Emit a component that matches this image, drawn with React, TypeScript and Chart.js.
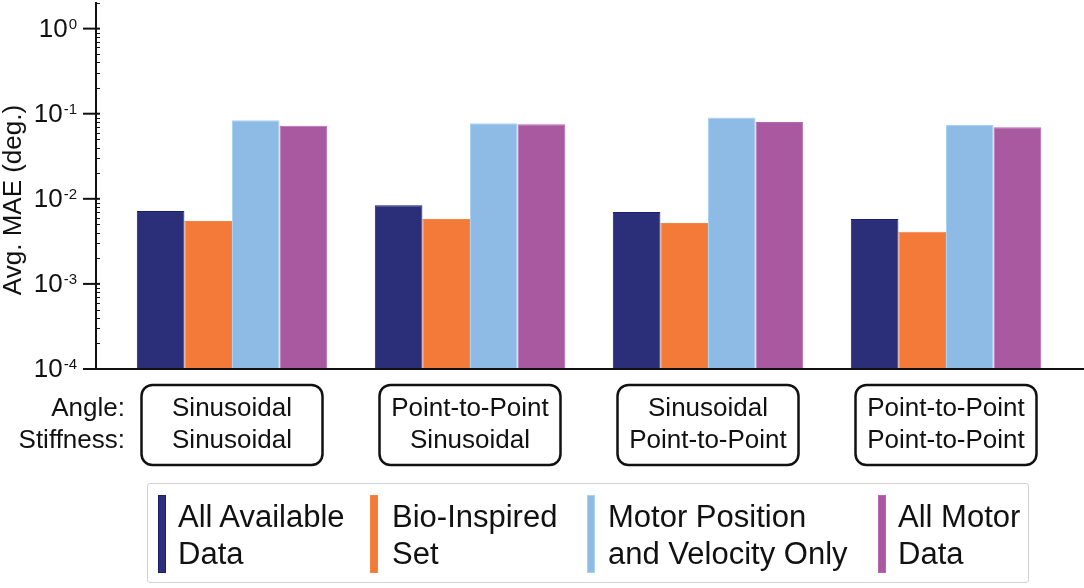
import { useEffect, useRef } from "react";
import { Chart, registerables } from "chart.js";

Chart.register(...registerables);

const FONT = "'Liberation Sans', Arial, sans-serif";

// category labels (two rows under every group)
const ANGLE = ["Sinusoidal", "Point-to-Point", "Sinusoidal", "Point-to-Point"];
const STIFFNESS = ["Sinusoidal", "Sinusoidal", "Point-to-Point", "Point-to-Point"];

// series (avg. MAE in degrees)
const ALL_AVAILABLE = [0.0072, 0.0084, 0.007, 0.0058];
const BIO_INSPIRED = [0.0055, 0.0058, 0.0052, 0.0041];
const MOTOR_POS_VEL = [0.084, 0.077, 0.09, 0.0735];
const ALL_MOTOR = [0.072, 0.075, 0.08, 0.0695];

const SERIES_LABELS = [
  ["All Available", "Data"],
  ["Bio-Inspired", "Set"],
  ["Motor Position", "and Velocity Only"],
  ["All Motor", "Data"],
];
const SERIES_FILL = ["#2b2f79", "#f47a3a", "#8dbbe6", "#a8599f"];
const SERIES_EDGE = ["#1c1f6b", "#f28446", "#a9d3f3", "#b866b5"];

// decade exponents shown on the y axis
const Y_EXPONENTS = [-4, -3, -2, -1, 0];
const Y_MIN = 1e-4;
const Y_MAX = 2;

const INK = "#111";

const decorPlugin = {
  id: "decor",
  afterDatasetsDraw(chart: Chart) {
    const { ctx, chartArea } = chart;
    const y = chart.scales.y;
    const x = chart.scales.x;
    const axisX = 96;
    const axisY = y.getPixelForValue(Y_MIN);

    ctx.save();
    ctx.strokeStyle = INK;
    ctx.fillStyle = INK;

    // axis lines
    ctx.lineWidth = 2;
    ctx.beginPath();
    ctx.moveTo(axisX, chartArea.top - 1);
    ctx.lineTo(axisX, axisY);
    ctx.moveTo(83, axisY);
    ctx.lineTo(1084, axisY);
    ctx.stroke();

    // minor ticks
    ctx.lineWidth = 1;
    ctx.beginPath();
    for (let e = -4; e <= 0; e++) {
      for (let k = 2; k <= 9; k++) {
        const v = k * Math.pow(10, e);
        if (v > Y_MAX) break;
        const py = Math.round(y.getPixelForValue(v)) + 0.5;
        ctx.moveTo(axisX, py);
        ctx.lineTo(axisX + 4, py);
      }
    }
    ctx.stroke();

    // major ticks + labels
    ctx.lineWidth = 2;
    Y_EXPONENTS.forEach((e) => {
      const py = y.getPixelForValue(Math.pow(10, e));
      ctx.beginPath();
      ctx.moveTo(83, py);
      ctx.lineTo(axisX + 4, py);
      ctx.stroke();

      const exp = String(e);
      ctx.font = `15px ${FONT}`;
      const ew = ctx.measureText(exp).width;
      ctx.textAlign = "left";
      ctx.textBaseline = "alphabetic";
      ctx.fillText(exp, 77 - ew, py);
      ctx.font = `26px ${FONT}`;
      ctx.textAlign = "right";
      ctx.textBaseline = "middle";
      ctx.fillText("10", 77 - ew - 1, py + 1);
    });

    // y axis title
    ctx.save();
    ctx.translate(14, 200);
    ctx.rotate(-Math.PI / 2);
    ctx.font = `26px ${FONT}`;
    ctx.textAlign = "center";
    ctx.textBaseline = "middle";
    ctx.fillText("Avg. MAE (deg.)", 0, 0);
    ctx.restore();

    // row names
    ctx.font = `26px ${FONT}`;
    ctx.textAlign = "right";
    ctx.textBaseline = "middle";
    ctx.fillText("Angle:", 125, 409);
    ctx.fillText("Stiffness:", 125, 441);

    // category boxes
    ANGLE.forEach((a, i) => {
      const cx = x.getPixelForValue(i);
      const w = 181;
      ctx.lineWidth = 2.5;
      ctx.beginPath();
      ctx.roundRect(cx - w / 2, 385, w, 80, 11);
      ctx.stroke();
      ctx.textAlign = "center";
      ctx.fillText(a, cx, 409);
      ctx.fillText(STIFFNESS[i], cx, 441);
    });

    ctx.restore();
  },
};

const LEGEND_SWATCH_X = [10, 222, 439, 730];
const LEGEND_TEXT_X = [30, 244, 460, 750];

export default function App() {
  const canvasRef = useRef<HTMLCanvasElement>(null);
  const chartRef = useRef<Chart | null>(null);

  useEffect(() => {
    if (!canvasRef.current) return;
    const ctx = canvasRef.current.getContext("2d");
    if (!ctx) return;

    const series = [ALL_AVAILABLE, BIO_INSPIRED, MOTOR_POS_VEL, ALL_MOTOR];

    chartRef.current?.destroy();
    chartRef.current = new Chart(ctx, {
      type: "bar",
      data: {
        labels: ANGLE.map((a, i) => `${a} / ${STIFFNESS[i]}`),
        datasets: series.map((d, i) => ({
          label: SERIES_LABELS[i].join(" "),
          data: d,
          backgroundColor: SERIES_FILL[i],
          borderColor: SERIES_EDGE[i],
          borderWidth: 1,
          categoryPercentage: 0.8,
          barPercentage: 1,
        })),
      },
      options: {
        responsive: true,
        maintainAspectRatio: false,
        animation: false,
        layout: { padding: { left: 113, right: 19, top: 3, bottom: 219 } },
        plugins: { legend: { display: false }, tooltip: { enabled: false } },
        scales: {
          x: { type: "category", offset: true, display: false },
          y: { type: "logarithmic", min: Y_MIN, max: Y_MAX, display: false },
        },
      },
      plugins: [decorPlugin],
    });

    return () => chartRef.current?.destroy();
  }, []);

  return (
    <div style={{ position: "absolute", left: 0, top: 0, width: 1084, height: 588, background: "#fff" }}>
      <canvas ref={canvasRef} />
      <div
        style={{
          position: "absolute",
          left: 147,
          top: 483,
          width: 880,
          height: 98,
          border: "1.5px solid #d2d2d2",
          borderRadius: 3,
          fontFamily: FONT,
          fontSize: 31,
          color: INK,
        }}
      >
        {SERIES_LABELS.map((lines, i) => (
          <div key={i}>
            <div
              style={{
                position: "absolute",
                left: LEGEND_SWATCH_X[i],
                top: 11,
                width: 6,
                height: 76,
                background: SERIES_FILL[i],
                border: `1px solid ${SERIES_EDGE[i]}`,
              }}
            />
            <div
              style={{
                position: "absolute",
                left: LEGEND_TEXT_X[i],
                top: 14,
                lineHeight: "37px",
                whiteSpace: "nowrap",
              }}
            >
              {lines[0]}
              <br />
              {lines[1]}
            </div>
          </div>
        ))}
      </div>
    </div>
  );
}
